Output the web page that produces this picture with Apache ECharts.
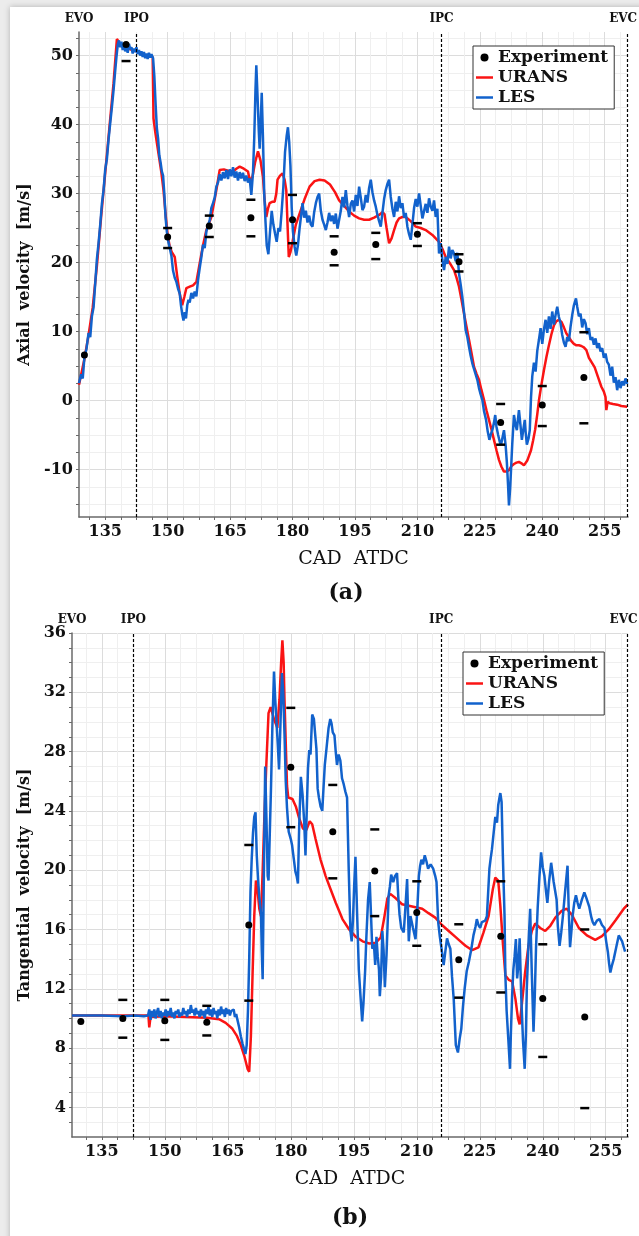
<!DOCTYPE html>
<html>
<head>
<meta charset="utf-8">
<script src="https://cdn.jsdelivr.net/npm/echarts@6/dist/echarts.min.js"></script>
<style>
html, body { margin: 0; padding: 0; width: 639px; height: 1236px; overflow: hidden; background: #ececec; }
.sheet { position: absolute; left: 10px; top: 7px; width: 720px; height: 1300px; background: #fff; box-shadow: 0 0 6px rgba(0, 0, 0, 0.25); }
#chart { position: absolute; left: 0; top: 0; width: 639px; height: 1236px; }
</style>
</head>
<body>
<div class="sheet"></div>
<div id="chart"></div>
<script>
// tick labels
const xTickLabels = [135, 150, 165, 180, 195, 210, 225, 240, 255];
const yTicksA = [-10, 0, 10, 20, 30, 40, 50];
const yTicksB = [4, 8, 12, 16, 20, 24, 28, 32, 36];

// valve events (CAD)
const eventNames = ['EVO', 'IPO', 'IPC', 'EVC'];
const eventCadA = [128.7, 142.5, 215.8, 260.4];
const eventCadB = [127.9, 142.5, 215.8, 260.2];

// experiment, mean and error bounds
const expCad = [130, 140, 150, 160, 170, 180, 190, 200, 210, 220, 230, 240, 250];
const expA = [6.6, 51.6, 23.7, 25.3, 26.5, 26.2, 21.5, 22.6, 24.1, 20.1, -3.2, -0.65, 3.35];
const expALow = [null, 49.2, 22.1, 23.7, 23.8, 22.8, 19.6, 20.5, 22.4, 18.7, -6.4, -3.7, -3.3];
const expAHigh = [null, 53.5, 25.0, 26.8, 29.1, 29.8, 23.8, 24.3, 25.7, 21.2, -0.5, 2.1, 9.9];
const expB = [9.8, 10.0, 9.85, 9.74, 16.3, 26.95, 22.6, 19.95, 17.15, 13.95, 15.55, 11.35, 10.1];
const expBLow = [null, 8.7, 8.55, 8.85, 11.2, 22.9, 19.45, 16.9, 14.9, 11.4, 11.75, 7.4, 3.95];
const expBHigh = [null, 11.25, 11.25, 10.85, 21.7, 30.95, 25.75, 22.75, 19.25, 16.35, 19.25, 15.0, 16.0];

// (a) axial velocity
const uransA = [[128.7,2.3],[130,6],[131,9.5],[132,13.5],[133,19.5],[134,26.5],[135,33],[136,39.5],[137,46],[137.8,52.4],[138.5,51.8],[139.5,51.2],[140.5,51],[141.5,50.8],[142.5,50.6],[143.5,50.3],[144.5,50],[145.5,49.9],[146.4,49.8],[146.6,40.9],[147,39],[147.5,37],[148,35],[148.5,33],[149,30.5],[149.5,27],[150,24],[150.5,22.3],[151,21.5],[151.7,20.8],[152.3,18],[152.9,15.5],[153.5,13.8],[154,15],[154.5,16.3],[155.3,16.5],[156.1,16.7],[156.9,17.2],[157.7,19.9],[158.5,22.5],[159.3,24.7],[160.5,26.6],[161.1,28.5],[161.7,30.5],[162.5,33.4],[163.5,33.5],[164.5,33.3],[165.7,33.2],[166.5,33.6],[167.3,33.9],[168.3,33.6],[169.3,33.2],[169.8,31.7],[170.4,32.5],[171,34.5],[171.7,36.1],[172.3,34.8],[172.9,32.4],[173.3,29],[173.7,26.6],[174.1,27.8],[174.5,28.6],[175.1,28.8],[175.7,28.8],[176.1,30],[176.4,32],[177,32.6],[177.6,32.9],[178.1,32],[178.5,30.5],[178.8,25.5],[179.1,20.8],[179.5,21.5],[180,23],[180.8,25.5],[181.7,27.1],[182.9,29.2],[184.1,31],[185.3,31.8],[186.5,32],[187.7,31.9],[189,31.3],[190.2,30.2],[191.2,29],[192.4,28.2],[193.6,27.4],[194.8,26.8],[196,26.4],[197.2,26.2],[198.4,26.2],[199.6,26.5],[200.8,26.9],[201.6,27.3],[202.1,27],[202.6,25],[203.2,22.8],[203.8,23.5],[204.4,24.7],[205,25.8],[205.6,26.4],[206.4,26.6],[207.2,26.6],[208.4,26],[209.6,25.2],[210.8,25],[212,24.7],[213.6,24],[215.2,23],[216,22],[216.8,20.8],[217.8,19.9],[218.8,18.9],[219.4,17.8],[220,16.5],[220.6,14.6],[221.2,12.6],[221.8,10.7],[222.4,8.8],[223,6.9],[223.6,4.9],[224.2,3.9],[224.8,3],[225.4,1.5],[226,0.1],[226.6,-1.4],[227.2,-2.8],[227.8,-4.2],[228.4,-5.7],[229,-7.2],[229.6,-8.6],[230.2,-9.6],[230.8,-10.3],[231.4,-10.3],[232,-10.1],[232.6,-9.5],[233.2,-9.2],[233.8,-9],[234.4,-8.9],[235,-9.1],[235.6,-9.4],[236,-9.3],[236.4,-8.7],[237.3,-7.2],[237.8,-5.8],[238.3,-4.2],[238.8,-2],[239.2,0],[239.8,2.3],[240.4,4.4],[241,6.3],[241.6,8],[242.2,9.6],[242.8,10.9],[243.4,11.5],[244,11.7],[244.6,11.4],[245.2,10.6],[245.8,9.7],[246.4,9.2],[247,8.6],[247.6,8.2],[248.2,8],[248.8,8],[249.4,7.9],[250,7.7],[250.6,7.3],[251.2,6.2],[251.8,5.6],[252.6,4.8],[253.4,3.4],[254.2,2],[254.8,1.3],[255.2,0.5],[255.4,-1.4],[255.7,-0.2],[256.2,-0.4],[257,-0.5],[258,-0.6],[259,-0.8],[260.4,-0.9]];

const lesA = [[128.7,2.5],[129.2,3.8],[129.6,3.2],[130,6.2],[130.5,7.5],[131,9.8],[131.4,9.2],[131.8,12.2],[132.2,13.5],[132.6,17],[133,20.5],[133.4,22.8],[133.8,25.5],[134.2,28.5],[134.6,30.5],[135,33.5],[135.4,35],[135.8,37.8],[136.2,40.2],[136.6,42.5],[137,45],[137.4,47.8],[137.7,49.8],[138,51.5],[138.3,52.2],[138.6,51.2],[138.9,52],[139.2,50.8],[139.5,51.8],[139.8,50.6],[140.1,51.5],[140.4,50.4],[140.7,51.7],[141,50.9],[141.3,51.2],[141.6,50.3],[141.9,51],[142.2,50.5],[142.5,51.2],[142.8,50.2],[143.1,50.8],[143.4,50],[143.7,50.6],[144,49.8],[144.3,50.5],[144.6,49.6],[144.9,50.3],[145.2,49.5],[145.5,50.4],[145.8,49.7],[146.1,50.2],[146.5,49.6],[146.8,47],[147.1,43],[147.4,39.5],[147.7,38],[148,35.5],[148.3,34.5],[148.6,33.2],[148.9,32.6],[149.2,30],[149.5,26.5],[149.8,24.5],[150.1,23.2],[150.5,22.1],[150.9,21],[151.3,18.8],[151.7,17.8],[152.1,17.2],[152.5,16.2],[152.9,15.5],[153.2,13.8],[153.5,12.5],[153.8,11.6],[154.1,12.8],[154.4,11.9],[154.7,13.8],[155,14.6],[155.3,14.2],[155.7,15.6],[156.1,14.8],[156.5,15.8],[156.9,15.1],[157.3,17.5],[157.7,19.2],[158.1,20.8],[158.5,22.6],[158.9,22.1],[159.3,24.5],[159.7,25.4],[160.1,26.1],[160.5,27.9],[160.9,28.6],[161.3,29.4],[161.7,31],[162.1,31.6],[162.5,32.8],[162.9,31.9],[163.3,33.1],[163.7,32.2],[164.1,33.4],[164.5,32.1],[164.9,33.5],[165.3,32.5],[165.7,33.8],[166.1,32.3],[166.5,33.2],[166.9,31.9],[167.3,33.1],[167.7,32.2],[168.1,33],[168.5,31.8],[168.9,32.6],[169.3,31.6],[169.7,32.2],[170.1,29.8],[170.5,33],[170.8,38],[171.1,45],[171.3,48.6],[171.6,44],[171.9,39],[172.1,36.5],[172.4,41],[172.6,44.6],[172.9,38],[173.2,30],[173.5,26],[173.8,22.5],[174.2,21.2],[174.6,24.5],[175,27.5],[175.4,25.5],[175.8,24.2],[176.2,23],[176.6,25],[177,24.5],[177.4,27.5],[177.8,31],[178.2,36],[178.6,38.4],[178.9,39.6],[179.2,37.5],[179.5,34],[179.8,28],[180.1,24.5],[180.5,22.3],[180.9,21],[181.3,22.5],[181.7,25],[182.1,27],[182.4,28.6],[182.8,26.5],[183.2,27.5],[183.6,25.8],[184,26.8],[184.4,25.5],[184.8,25.2],[185.2,27.3],[185.6,28.6],[186,29.5],[186.4,30],[186.8,27.5],[187.2,26.2],[187.6,25.5],[188,24.7],[188.4,25.8],[188.8,27.2],[189.2,26],[189.6,26.8],[190,25.6],[190.4,27.1],[190.8,24.9],[191.2,24.7],[191.6,27.5],[192,29.5],[192.4,28],[192.8,30.5],[193.2,28.2],[193.6,26.6],[194,28.5],[194.4,29],[194.8,27.4],[195.2,29.8],[195.6,28.2],[196,31],[196.4,29.4],[196.8,27.6],[197.2,28.1],[197.6,29.8],[198,28.7],[198.4,30.8],[198.8,32],[199.2,30.2],[199.6,29],[200,28.1],[200.4,26.9],[200.8,26],[201.2,25.2],[201.6,27.2],[202,29.2],[202.4,30.5],[202.8,31.4],[203.2,32],[203.6,29.5],[204,27.8],[204.4,26.6],[204.8,28.8],[205.2,27.4],[205.6,29.6],[206,27.9],[206.4,28.6],[206.8,26.5],[207.2,27.2],[207.6,25.2],[208,24.1],[208.4,23.3],[208.8,25.5],[209.2,27.9],[209.6,29.2],[210,28.1],[210.4,30],[210.8,28.2],[211.2,26.4],[211.6,26.6],[212,28.5],[212.4,27.2],[212.8,29.3],[213.2,28.1],[213.6,27.5],[214,29],[214.4,26.6],[214.8,27.8],[215.2,21.3],[215.6,22.8],[216,20.4],[216.4,18.9],[216.8,20.8],[217.2,19.8],[217.6,22.3],[218,20.6],[218.4,21.8],[218.8,21.3],[219.2,20.2],[219.6,21.4],[220,18.4],[220.4,16.8],[220.8,15],[221.2,12.8],[221.6,10.2],[222,9.2],[222.4,7.8],[222.8,6.5],[223.2,5.4],[223.6,4.6],[224,3.8],[224.4,3],[224.8,1.8],[225.2,0.9],[225.6,0.1],[226,-1.5],[226.5,-2.8],[226.9,-4.5],[227.3,-5.7],[227.7,-4.8],[228,-4.3],[228.4,-3.2],[228.7,-2.1],[229,-3.8],[229.4,-5],[229.8,-6],[230.1,-6.4],[230.5,-5.2],[230.8,-4.3],[231.2,-6.5],[231.5,-9],[231.8,-12.5],[232,-15.2],[232.3,-12.6],[232.5,-10],[232.8,-6.2],[233.2,-2.1],[233.6,-3.6],[233.9,-4.3],[234.2,-2.5],[234.4,-1.4],[234.8,-3.8],[235.1,-5.7],[235.5,-4],[235.8,-2.8],[236,-4.5],[236.3,-6.4],[236.7,-5.5],[237,-4.3],[237.3,0.5],[237.6,3.5],[238,5.5],[238.4,4.2],[238.8,7.2],[239.2,8.8],[239.6,10.5],[240,8.2],[240.4,10.3],[240.8,11.7],[241.2,9.8],[241.6,12.2],[242,10.4],[242.4,12.9],[242.8,11],[243.2,12.4],[243.6,13.6],[244,12.1],[244.4,11.2],[244.8,9.5],[245.2,8.4],[245.6,7.8],[246,9.2],[246.4,8.6],[246.8,10.7],[247.2,12.4],[247.6,13.8],[248.1,14.8],[248.4,13.6],[248.8,12.2],[249.2,12.6],[249.6,10.6],[250,11.8],[250.4,11.2],[250.8,9.6],[251.2,10.5],[251.6,8.8],[252,9.2],[252.4,8.1],[252.8,9],[253.2,7.6],[253.6,8.3],[254,7.1],[254.4,7.6],[254.8,6.2],[255.2,6.8],[255.6,5.6],[256,5.2],[256.4,3.6],[256.8,4.9],[257.2,2.6],[257.6,3.4],[258,1.5],[258.4,3],[258.8,1.8],[259.2,2.8],[259.6,2.2],[260,3.2],[260.4,2.4]];

// (b) tangential velocity
const uransB = [[127.9,10.2],[135,10.2],[140,10.2],[146.1,10.2],[146.3,9.4],[146.6,10.1],[150,10.15],[155,10.1],[160,10.05],[162.9,9.95],[164.5,9.7],[166.1,9.3],[167.2,8.8],[168.1,8.2],[169,7.4],[169.7,6.6],[170.1,6.4],[170.5,8.8],[170.9,13],[171.3,16.9],[171.7,19.3],[172.1,18.6],[172.5,17.4],[172.9,16.9],[173.3,19.9],[173.7,23.5],[174.1,26.6],[174.7,30.6],[175.2,31],[175.6,30.9],[176,30.2],[176.8,29.6],[177.3,31.5],[177.7,34],[178,35.5],[178.3,34],[178.5,31.5],[179.1,25.7],[179.4,24.9],[180.4,24.8],[181.2,24.3],[182,23.5],[182.9,22.8],[183.7,22.7],[184.5,23.3],[185.1,23.1],[185.9,22.1],[187.1,20.7],[188.3,19.6],[189.5,18.7],[190.7,17.8],[192.3,16.7],[193.9,16],[195.5,15.5],[197.1,15.2],[198.7,15.05],[200.2,15.1],[201.4,15.45],[202.2,16.7],[203,18.1],[203.7,18.4],[205,18.1],[206.5,17.7],[208.1,17.6],[209.7,17.5],[211.3,17.4],[212.8,17.1],[214.4,16.8],[216,16.3],[217.6,15.9],[219.2,15.5],[220.4,15.2],[221.6,14.9],[223.2,14.6],[224.7,14.8],[225.9,15.8],[227.1,16.9],[228.1,18.7],[228.7,19.5],[229.4,19.3],[229.9,17.6],[230.5,15.1],[231.1,12.9],[231.9,12.6],[232.7,12.5],[233.5,11.3],[234.1,10],[234.5,9.6],[235,10.9],[235.8,13.1],[236.6,14.9],[237.4,15.9],[238.2,16.4],[239.4,16.1],[240.6,15.9],[241.8,16.25],[243,16.8],[244.5,17.25],[245.7,17.4],[246.9,17],[248.6,16.1],[250.5,15.6],[252.5,15.3],[254.1,15.55],[255.7,16],[257.3,16.6],[259.3,17.4],[260.3,17.7]];

const lesB = [[127.9,10.2],[130,10.2],[135,10.2],[140,10.15],[143,10.2],[145,10.15],[146,10.2],[146.3,10.6],[146.6,9.9],[146.9,10.5],[147.2,10.1],[147.5,10.6],[147.8,10],[148.1,10.4],[148.4,10.7],[148.7,10.1],[149,10.5],[149.3,10],[149.6,10.4],[149.9,10.2],[150.2,10.6],[150.5,10.1],[150.8,10.5],[151.1,10.2],[151.4,10.7],[151.7,10.1],[152,10.4],[152.3,10],[152.6,10.5],[152.9,10.3],[153.2,10.6],[153.5,10.1],[153.8,10.4],[154.1,10.2],[154.4,10.7],[154.7,10.3],[155,10.5],[155.3,10.1],[155.6,10.6],[155.9,10.3],[156.2,10.9],[156.5,10.4],[156.8,10.6],[157.1,10.2],[157.4,10.7],[157.7,10.3],[158,10.5],[158.3,10.1],[158.6,10.6],[158.9,10.2],[159.2,10.5],[159.5,10],[159.8,10.6],[160.1,10.3],[160.4,10.8],[160.7,10.2],[161,10.6],[161.3,10.1],[161.6,10.7],[161.9,10.3],[162.2,10.5],[162.5,10],[162.8,10.6],[163.1,10.2],[163.4,10.8],[163.7,10.3],[164,10.6],[164.3,10.1],[164.6,10.7],[164.9,10.3],[165.2,10.6],[165.5,10.2],[165.8,10.5],[166.1,10.4],[166.4,10.6],[166.7,10.1],[167,10.3],[167.3,9.9],[167.7,9.4],[168.1,8.8],[168.5,8.3],[168.9,7.9],[169.2,7.6],[169.5,8.2],[169.8,10.5],[170.1,14],[170.4,18.5],[170.7,20.8],[171,22.5],[171.3,23.6],[171.6,23.9],[171.9,21],[172.2,19.4],[172.5,18.2],[172.9,17.1],[173.1,14.5],[173.3,12.65],[173.6,20],[173.9,27],[174.2,23.5],[174.5,19.6],[174.7,19.3],[175,22.5],[175.3,25.7],[175.6,29.5],[176,33.4],[176.3,31.5],[176.6,30],[176.9,28.5],[177.2,26.8],[177.5,29.5],[177.9,33.3],[178.2,32],[178.5,29.2],[178.8,26],[179.1,24.2],[179.5,22.6],[180,22.1],[180.3,21.7],[180.7,20.8],[181.1,19.9],[181.4,19.6],[181.7,19.1],[182,23],[182.4,26.3],[182.8,25.1],[183.2,23.2],[183.5,21],[183.8,24],[184.1,26.9],[184.4,28.1],[184.7,27.8],[185.1,30.5],[185.5,30.2],[185.8,29.2],[186.1,28.2],[186.4,25.5],[186.7,24.9],[187.1,24.3],[187.5,24],[187.8,25.6],[188.1,27.1],[188.5,28.2],[189,29.6],[189.4,30.2],[189.7,29.9],[190,29.3],[190.4,29.1],[190.7,28],[191,27.1],[191.4,27.8],[191.8,27.4],[192.2,26.2],[192.6,25.8],[193,25.3],[193.4,24.9],[193.8,20],[194.2,15.9],[194.5,15.2],[194.8,16.6],[195.1,19],[195.4,20.9],[195.8,17],[196.2,13.3],[196.6,11.5],[197,9.8],[197.3,11],[197.7,13.2],[198,15.5],[198.4,18],[198.8,19.2],[199.1,17],[199.4,14.7],[199.8,15],[200.1,13.6],[200.4,15.5],[200.7,14.2],[201,13.3],[201.2,11.5],[201.5,12.8],[201.8,15.9],[202.1,14.6],[202.4,12.1],[202.8,14.3],[203.3,18.3],[203.6,18.9],[203.9,19.7],[204.4,19.2],[204.8,19.6],[205.3,19.8],[205.6,18.2],[205.9,17],[206.3,16.1],[206.9,15.8],[207.3,17.5],[207.7,19.4],[208.1,15.2],[208.5,16.9],[209.1,16.1],[209.7,15.35],[210.1,17.2],[210.5,19.6],[210.8,20.3],[211.1,20.7],[211.5,20.4],[211.9,21],[212.3,20.6],[212.7,20.1],[213.3,20.4],[213.9,20.1],[214.4,19.6],[214.7,19.2],[215.1,16.5],[215.5,15.5],[216,14.5],[216.4,13.6],[216.8,14.5],[217.2,15.4],[217.6,15],[218,14.7],[218.4,12.8],[218.8,11.3],[219.3,8.2],[219.8,7.7],[220.2,8.6],[220.6,9.3],[221,10.8],[221.4,12],[221.9,13.2],[222.4,13.8],[223,14.7],[223.5,15.6],[224,16.2],[224.3,16.7],[224.7,16.3],[225.1,16.1],[225.5,16.5],[225.9,16.4],[226.3,16.6],[226.7,16.9],[227,18.5],[227.3,20.1],[227.6,20.8],[227.9,21.4],[228.3,22.5],[228.7,23.6],[229.1,23.2],[229.4,24.4],[229.7,24.9],[229.9,25.2],[230.2,24.6],[230.5,21],[230.9,16.9],[231.1,12.9],[231.4,10.5],[231.8,8.6],[232.2,6.6],[232.4,8.9],[232.7,11.5],[233,13.3],[233.3,14.2],[233.6,15.35],[233.9,12.7],[234.2,13.6],[234.5,15.4],[234.9,11.3],[235.3,8.5],[235.7,6.6],[236,9],[236.2,12],[236.6,15],[237,17.4],[237.4,13],[237.8,9.1],[238.1,11.5],[238.4,14.8],[238.8,17.5],[239.2,19.5],[239.6,21.2],[240,20.2],[240.4,19.6],[240.8,18.5],[241.1,17.8],[241.5,19.2],[242,20.5],[242.6,19.2],[243.3,18],[243.6,16.2],[244,14.9],[244.4,15.8],[244.8,16.9],[245.3,18.5],[245.9,20.3],[246.2,17.2],[246.5,14.8],[246.8,15.8],[247.1,16.9],[247.5,17.8],[247.9,18.3],[248.3,17.8],[248.7,17.4],[249.3,18],[249.9,18.5],[250.3,18.2],[250.7,18.1],[251.1,17.5],[251.5,16.9],[251.9,16.5],[252.3,16.3],[252.9,16.6],[253.5,16.7],[254.1,16.3],[254.7,16.1],[255.1,15.2],[255.5,14.5],[255.8,13.7],[256.1,13.1],[256.5,13.6],[256.9,14],[257.5,14.8],[258.1,15.6],[258.5,15.4],[258.9,15.2],[259.3,14.8],[259.6,14.5]];

const SERIF = '"DejaVu Serif", "Liberation Serif", serif';
const INK = '#111';
const RED = '#fa1414';
const BLUE = '#1262cc';
const LINE_ICON = 'path://M0,0L34,0L34,5L0,5Z';

// light grid: minor lines every quarter of a labelled step
function gridValues(start, end, step) {
  const out = [];
  for (let v = start; v <= end + 1e-9; v += step) out.push(+v.toFixed(3));
  return out;
}
const xGrid = gridValues(131.25, 260, 3.75);
const yGridA = gridValues(-15, 52.5, 2.5);
const yGridB = gridValues(3, 36, 1);

const labelFont = { fontFamily: SERIF, fontWeight: 'bold', fontSize: 16, color: INK };

function xAxisFor(gridIndex, min, max) {
  return {
    type: 'value',
    gridIndex,
    min,
    max,
    name: 'CAD  ATDC',
    nameLocation: 'middle',
    nameGap: 33,
    nameTextStyle: { fontFamily: SERIF, fontSize: 19, color: INK },
    axisLine: { show: true, onZero: false, lineStyle: { color: '#6a6a6a', width: 1.5 } },
    axisTick: { show: true, customValues: xGrid, length: 3, lineStyle: { color: '#6a6a6a' } },
    axisLabel: Object.assign({ customValues: xTickLabels, margin: 7 }, labelFont),
    splitLine: { show: true, lineStyle: { color: ['#efefef', '#dcdcdc', '#efefef', '#efefef'], width: 1 } }
  };
}

function yAxisFor(gridIndex, min, max, name, gap, ticks, grid, colors) {
  return {
    type: 'value',
    gridIndex,
    min,
    max,
    name,
    nameLocation: 'middle',
    nameGap: gap,
    nameTextStyle: { fontFamily: SERIF, fontWeight: 'bold', fontSize: 16, color: INK },
    axisLine: { show: true, lineStyle: { color: '#6a6a6a', width: 1.5 } },
    axisTick: { show: true, customValues: grid, length: 3, lineStyle: { color: '#6a6a6a' } },
    axisLabel: Object.assign({ customValues: ticks, margin: 6 }, labelFont),
    splitLine: { show: true, lineStyle: { color: colors, width: 1 } }
  };
}

function eventLines(cads) {
  return {
    silent: true,
    symbol: 'none',
    animation: false,
    lineStyle: { color: '#000', type: [3, 2], width: 1.2 },
    label: { show: true, position: 'end', formatter: '{b}', distance: 7, fontFamily: SERIF, fontWeight: 'bold', fontSize: 12, color: INK },
    data: eventNames.map((n, i) => {
      const item = { name: n, xAxis: cads[i] };
      if (i === 0) item.lineStyle = { color: 'rgba(0,0,0,0)' };
      if (i === eventNames.length - 1) item.label = { offset: [-4, 0] };
      return item;
    })
  };
}

function panelSeries(idx, urans, les, mean, low, high, cads) {
  const bars = [];
  expCad.forEach((c, i) => {
    if (low[i] != null) bars.push([c, low[i]]);
    if (high[i] != null) bars.push([c, high[i]]);
  });
  return [
    {
      name: 'URANS', type: 'line', xAxisIndex: idx, yAxisIndex: idx,
      data: urans, symbol: 'none', color: RED, lineStyle: { width: 2.5 }, z: 2
    },
    {
      name: 'LES', type: 'line', xAxisIndex: idx, yAxisIndex: idx,
      data: les, symbol: 'none', color: BLUE, lineStyle: { width: 2.5 }, z: 3,
      markLine: eventLines(cads)
    },
    {
      name: 'Experiment', type: 'scatter', xAxisIndex: idx, yAxisIndex: idx,
      data: expCad.map((c, i) => [c, mean[i]]), symbol: 'circle', symbolSize: 7,
      itemStyle: { color: '#000', opacity: 1 }, z: 5
    },
    {
      name: 'Experiment range', type: 'scatter', xAxisIndex: idx, yAxisIndex: idx,
      data: bars, symbol: 'rect', symbolSize: [9, 2.5],
      itemStyle: { color: '#000', opacity: 1 }, z: 5
    }
  ];
}

function legendAt(left, top) {
  return {
    left, top,
    orient: 'vertical',
    data: [
      { name: 'Experiment', icon: 'circle' },
      { name: 'URANS', icon: LINE_ICON },
      { name: 'LES', icon: LINE_ICON }
    ],
    itemWidth: 17,
    itemHeight: 8,
    itemGap: 3,
    padding: [3, 6, 3, 3],
    backgroundColor: '#fff',
    borderColor: '#333',
    borderWidth: 1,
    borderRadius: 0,
    textStyle: { fontFamily: SERIF, fontWeight: 'bold', fontSize: 17, color: INK }
  };
}

function initChart() {
  const chart = echarts.init(document.getElementById('chart'));
  chart.setOption({
    animation: false,
    grid: [
      { left: 79, top: 32, width: 549, height: 485 },
      { left: 72, top: 633, width: 556, height: 504 }
    ],
    xAxis: [xAxisFor(0, 128.7, 260.6), xAxisFor(1, 127.9, 260.3)],
    yAxis: [
      yAxisFor(0, -16.88, 53.41, 'Axial  velocity  [m/s]', 46, yTicksA, yGridA, ['#efefef', '#efefef', '#dcdcdc', '#efefef']),
      yAxisFor(1, 2, 36, 'Tangential  velocity  [m/s]', 39, yTicksB, yGridB, ['#efefef', '#dcdcdc', '#efefef', '#efefef'])
    ],
    legend: [legendAt(473, 46), legendAt(463, 652)],
    series: panelSeries(0, uransA, lesA, expA, expALow, expAHigh, eventCadA)
      .concat(panelSeries(1, uransB, lesB, expB, expBLow, expBHigh, eventCadB)),
    graphic: [
      { type: 'text', x: 346, y: 593, style: { text: '(a)', textAlign: 'center', textVerticalAlign: 'middle', font: 'bold 22px "DejaVu Serif"', fill: INK } },
      { type: 'text', x: 350, y: 1218, style: { text: '(b)', textAlign: 'center', textVerticalAlign: 'middle', font: 'bold 22px "DejaVu Serif"', fill: INK } }
    ]
  });
}

initChart();
</script>
</body>
</html>
